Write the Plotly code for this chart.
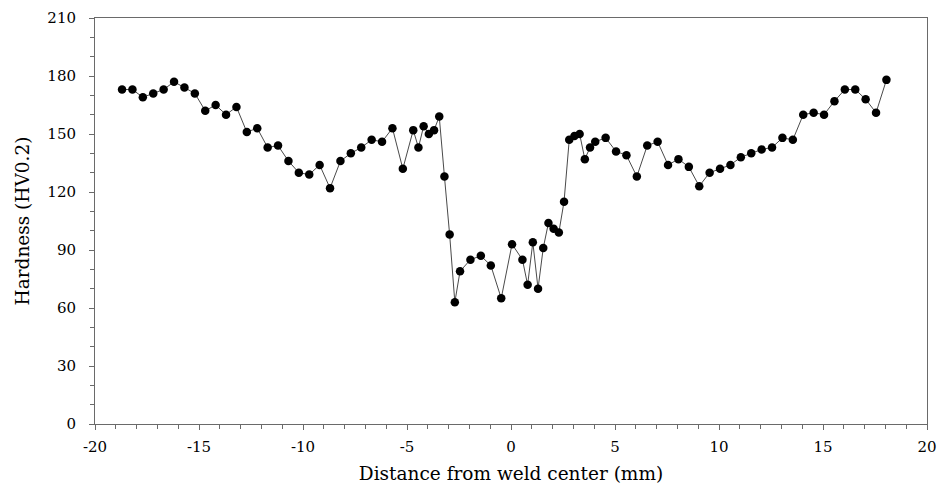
import plotly.graph_objects as go

# Distance from weld center (mm)
distance_mm = [
    -18.7, -18.2, -17.7, -17.2, -16.7, -16.2, -15.7, -15.2, -14.7, -14.2,
    -13.7, -13.2, -12.7, -12.2, -11.7, -11.2, -10.7, -10.2, -9.7, -9.2,
    -8.7, -8.2, -7.7, -7.2, -6.7, -6.2, -5.7, -5.2, -4.7, -4.45,
    -4.2, -3.95, -3.7, -3.45, -3.2, -2.95, -2.7, -2.45, -1.95, -1.45,
    -0.97, -0.47, 0.05, 0.55, 0.8, 1.05, 1.3, 1.55, 1.8, 2.05,
    2.3, 2.55, 2.8, 3.05, 3.3, 3.55, 3.8, 4.05, 4.55, 5.05,
    5.55, 6.05, 6.55, 7.05, 7.55, 8.05, 8.55, 9.05, 9.55, 10.05,
    10.55, 11.05, 11.55, 12.05, 12.55, 13.05, 13.55, 14.05, 14.55, 15.05,
    15.55, 16.05, 16.55, 17.05, 17.55, 18.05,
]

# Hardness (HV0.2)
hardness = [
    173, 173, 169, 171, 173, 177, 174, 171, 162, 165,
    160, 164, 151, 153, 143, 144, 136, 130, 129, 134,
    122, 136, 140, 143, 147, 146, 153, 132, 152, 143,
    154, 150, 152, 159, 128, 98, 63, 79, 85, 87,
    82, 65, 93, 85, 72, 94, 70, 91, 104, 101,
    99, 115, 147, 149, 150, 137, 143, 146, 148, 141,
    139, 128, 144, 146, 134, 137, 133, 123, 130, 132,
    134, 138, 140, 142, 143, 148, 147, 160, 161, 160,
    167, 173, 173, 168, 161, 178,
]

x_ticks = [-20, -15, -10, -5, 0, 5, 10, 15, 20]
y_ticks = [0, 30, 60, 90, 120, 150, 180, 210]

FONT = "DejaVu Serif"
AXIS_COLOR = "#6a6a6a"

fig = go.Figure()
fig.add_trace(go.Scatter(
    x=distance_mm, y=hardness, mode="lines+markers",
    line=dict(color="#4a4a4a", width=1),
    marker=dict(color="black", size=8.5),
    showlegend=False,
))

fig.update_layout(
    width=940, height=488,
    margin=dict(l=95, r=13, t=18, b=64),
    paper_bgcolor="white", plot_bgcolor="white",
    font=dict(family=FONT, size=14, color="black"),
)

fig.update_xaxes(
    range=[-20, 20], tickvals=x_ticks, ticktext=[str(v) for v in x_ticks],
    ticks="outside", ticklen=5, tickcolor=AXIS_COLOR,
    minor=dict(dtick=1, ticks="outside", ticklen=4, tickcolor=AXIS_COLOR),
    showline=True, linecolor=AXIS_COLOR, linewidth=1, mirror=True,
    showgrid=False, zeroline=False, automargin=False,
    ticklabelstandoff=4, ticklabeloverflow="allow",
    title=dict(text="Distance from weld center (mm)", font=dict(size=18.5), standoff=12),
    tickfont=dict(size=15),
)
fig.update_yaxes(
    range=[0, 210], tickvals=y_ticks, ticktext=[str(v) for v in y_ticks],
    ticks="outside", ticklen=5, tickcolor=AXIS_COLOR,
    minor=dict(dtick=10, ticks="outside", ticklen=4, tickcolor=AXIS_COLOR),
    showline=True, linecolor=AXIS_COLOR, linewidth=1, mirror=True,
    showgrid=False, zeroline=False, automargin=False,
    ticklabelstandoff=10, ticklabeloverflow="allow",
    title=dict(text="Hardness (HV0.2)", font=dict(size=18.5), standoff=12),
    tickfont=dict(size=15),
)

# remove the browser's default 8px page margin so the 940x488 figure fills the window
fig.write_html(
    "out.html",
    config={"displayModeBar": False},
    post_script="document.body.style.margin='0';document.body.style.overflow='hidden';",
)
